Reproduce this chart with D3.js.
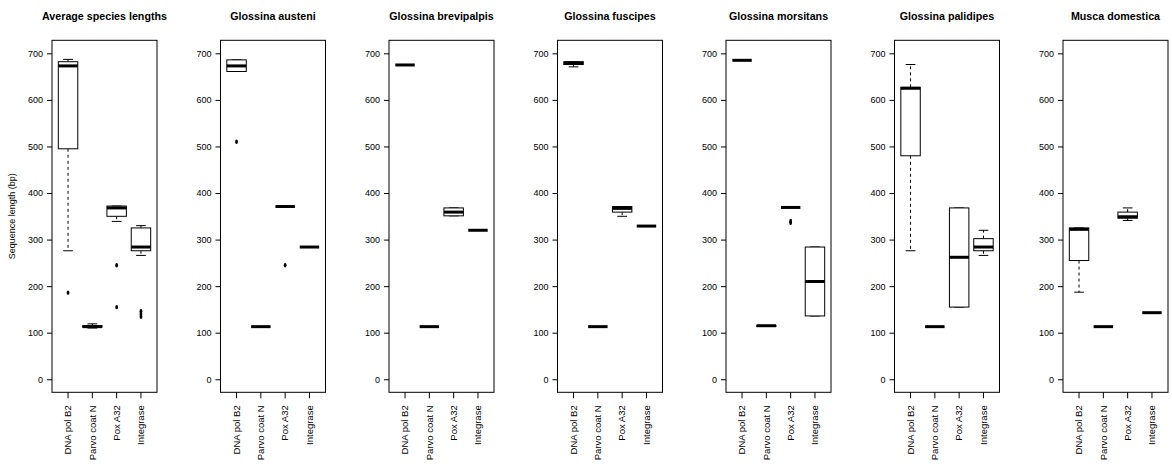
<!DOCTYPE html>
<html>
<head>
<meta charset="utf-8">
<script src="https://cdn.jsdelivr.net/npm/d3@7"></script>
<style>
  body { margin: 0; background: #fff; }
  svg { display: block; font-family: "Liberation Sans", Arial, sans-serif; }
</style>
</head>
<body>
<svg id="chart" width="1172" height="472"></svg>
<script>
// panel titles and gene categories
const titles = ["Average species lengths", "Glossina austeni", "Glossina brevipalpis",
  "Glossina fuscipes", "Glossina morsitans", "Glossina palidipes", "Musca domestica"];
const genes = ["DNA pol B2", "Parvo coat N", "Pox A32", "Integrase"];
const yTicks = [0, 100, 200, 300, 400, 500, 600, 700];

// box stats per gene: [lower whisker, Q1, median, Q3, upper whisker]
const averageStats = [[276, 495, 673, 682, 687], [110, 112, 113, 115, 119], [339, 350, 368, 372, 372], [266, 276, 284, 325, 330]];
const averageOut = [[186], [], [245, 155], [146, 140, 134]];
const austeniStats = [[661, 661, 673, 686, 686], [113, 113, 113, 113, 113], [371, 371, 371, 371, 371], [284, 284, 284, 284, 284]];
const austeniOut = [[510], [], [245], []];
const brevipalpisStats = [[675, 675, 675, 675, 675], [113, 113, 113, 113, 113], [351, 351, 359, 368, 368], [320, 320, 320, 320, 320]];
const brevipalpisOut = [[], [], [], []];
const fuscipesStats = [[671, 676, 679, 682, 682], [113, 113, 113, 113, 113], [350, 359, 367, 371, 371], [329, 329, 329, 329, 329]];
const fuscipesOut = [[], [], [], []];
const morsitansStats = [[685, 685, 685, 685, 685], [114, 114, 115, 115, 115], [369, 369, 369, 369, 369], [136, 136, 210, 284, 284]];
const morsitansOut = [[], [], [340, 336], []];
const palidipesStats = [[276, 480, 625, 627, 676], [113, 113, 113, 113, 113], [155, 155, 262, 368, 368], [266, 276, 284, 302, 320]];
const palidipesOut = [[], [], [], []];
const muscaStats = [[187, 255, 322, 325, 325], [113, 113, 113, 113, 113], [341, 346, 349, 359, 368], [143, 143, 143, 143, 143]];
const muscaOut = [[], [], [], []];

const allStats = [averageStats, austeniStats, brevipalpisStats, fuscipesStats, morsitansStats, palidipesStats, muscaStats];
const allOut = [averageOut, austeniOut, brevipalpisOut, fuscipesOut, morsitansOut, palidipesOut, muscaOut];

const svg = d3.select("#chart");
const panelW = 105, step = 168.5, left0 = 52;
const frameTop = 40.3, frameBottom = 392.3;

// y range extended by 4% like base graphics
const y = d3.scaleLinear().domain([-28, 728]).range([frameBottom, frameTop]);

titles.forEach((title, i) => {
  const L = left0 + i * step;
  const R = L + panelW;
  const g = svg.append("g");

  const ext = panelW * 0.16 / 4.32;
  const x = d3.scaleBand().domain(genes).range([L + ext, R - ext]).padding(0);
  const bw = x.bandwidth() * 0.8;

  // title
  g.append("text")
    .attr("x", (L + R) / 2).attr("y", 20)
    .attr("text-anchor", "middle")
    .attr("font-weight", "bold")
    .attr("font-size", "10.7px")
    .text(title);

  // y axis
  const ya = g.append("g")
    .attr("transform", `translate(${L},0)`)
    .call(d3.axisLeft(y).tickValues(yTicks).tickSize(5).tickPadding(4));
  ya.select(".domain").remove();
  ya.selectAll("text").attr("font-size", "9px").attr("fill", "#000");
  ya.selectAll("line").attr("stroke", "#000");

  // x axis
  const xa = g.append("g")
    .attr("transform", `translate(0,${frameBottom})`)
    .call(d3.axisBottom(x).tickSize(6).tickPadding(0));
  xa.select(".domain").remove();
  xa.selectAll("line").attr("stroke", "#000");
  xa.selectAll("text")
    .attr("font-size", "9.5px")
    .attr("fill", "#000")
    .attr("text-anchor", "end")
    .attr("transform", "translate(0,13) rotate(-90)")
    .attr("x", 0).attr("y", 0)
    .attr("dy", "0.35em");

  // boxes
  allStats[i].forEach((s, j) => {
    const cx = x(genes[j]) + x.bandwidth() / 2;
    const [lo, q1, med, q3, hi] = s;
    const bg = g.append("g").attr("stroke", "#000").attr("fill", "none");
    // whiskers
    if (hi > q3) {
      bg.append("line").attr("x1", cx).attr("x2", cx).attr("y1", y(q3)).attr("y2", y(hi))
        .attr("stroke-dasharray", "3,3");
    }
    if (lo < q1) {
      bg.append("line").attr("x1", cx).attr("x2", cx).attr("y1", y(q1)).attr("y2", y(lo))
        .attr("stroke-dasharray", "3,3");
    }
    // staples
    [lo, hi].forEach(v => {
      bg.append("line").attr("x1", cx - bw / 4).attr("x2", cx + bw / 4)
        .attr("y1", y(v)).attr("y2", y(v));
    });
    // box
    bg.append("rect")
      .attr("x", cx - bw / 2).attr("width", bw)
      .attr("y", y(q3)).attr("height", Math.max(0, y(q1) - y(q3)))
      .attr("fill", "#fff");
    // median
    bg.append("line").attr("x1", cx - bw / 2).attr("x2", cx + bw / 2)
      .attr("y1", y(med)).attr("y2", y(med)).attr("stroke-width", 3);
    // outliers
    allOut[i][j].forEach(v => {
      bg.append("ellipse").attr("cx", cx).attr("cy", y(v))
        .attr("rx", 1.4).attr("ry", 2.2).attr("fill", "#000").attr("stroke", "none");
    });
  });

  // frame
  g.append("rect")
    .attr("x", L).attr("y", frameTop)
    .attr("width", panelW).attr("height", frameBottom - frameTop)
    .attr("fill", "none").attr("stroke", "#000");

  if (i === 0) {
    g.append("text")
      .attr("transform", `translate(15,${(y(0) + y(700)) / 2}) rotate(-90)`)
      .attr("text-anchor", "middle")
      .attr("font-size", "9px")
      .text("Sequence length (bp)");
  }
});
</script>
</body>
</html>
